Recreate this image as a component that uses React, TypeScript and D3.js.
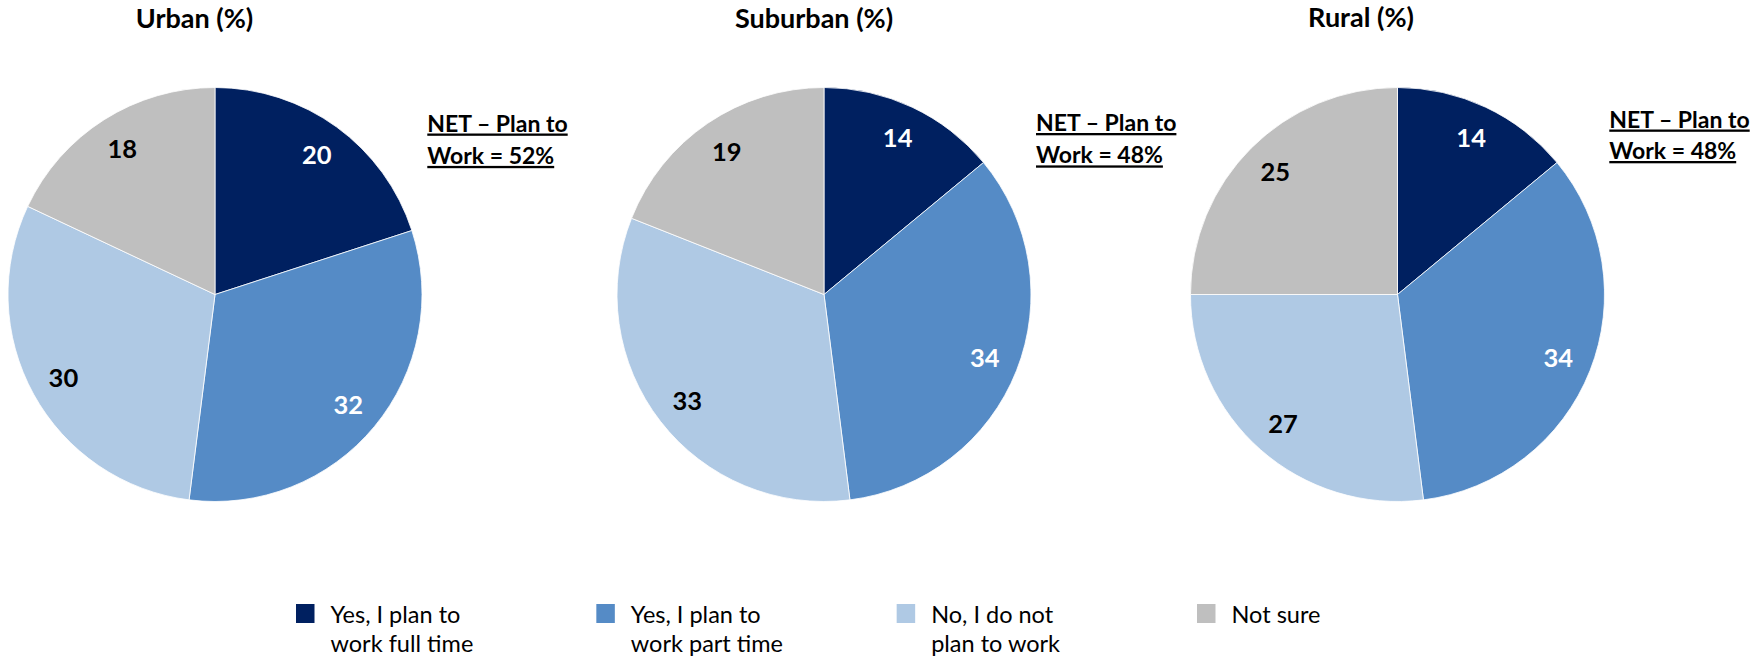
import React from "react";
import * as d3 from "d3";

const categories = [
  "Yes, I plan to work full time",
  "Yes, I plan to work part time",
  "No, I do not plan to work",
  "Not sure",
];
const legendLines = [
  ["Yes, I plan to", "work full time"],
  ["Yes, I plan to", "work part time"],
  ["No, I do not", "plan to work"],
  ["Not sure"],
];
const groups = ["Urban (%)", "Suburban (%)", "Rural (%)"];
const urbanValues = [20, 32, 30, 18];
const suburbanValues = [14, 34, 33, 19];
const ruralValues = [14, 34, 27, 25];
const netValues = ["52%", "48%", "48%"];

const colors = ["#002060", "#558BC6", "#AFC9E4", "#BFBFBF"];
const labelColors = ["#FFFFFF", "#FFFFFF", "#000000", "#000000"];

const W = 1757;
const H = 659;
const FONT = "Lato, 'Open Sans', sans-serif";

const layout = [
  { cx: 215, titleX: 194.5, titleY: 27.5, netX: 427.3, netY: 131.5, netGap: 32.4 },
  { cx: 824, titleX: 814, titleY: 27.5, netX: 1036, netY: 131, netGap: 32.4 },
  { cx: 1397.5, titleX: 1361, titleY: 27, netX: 1609.3, netY: 127.5, netGap: 31.5 },
];
const CY = 294.5;
const R = 207;
const LABEL_R = 173;

export default function App() {
  const series = [urbanValues, suburbanValues, ruralValues];
  const pie = d3.pie<number>().sort(null).value((d) => d);
  const arc = d3.arc<d3.PieArcDatum<number>>().innerRadius(0).outerRadius(R);
  const labelArc = d3
    .arc<d3.PieArcDatum<number>>()
    .innerRadius(LABEL_R)
    .outerRadius(LABEL_R);
  const color = d3.scaleOrdinal<string, string>().domain(categories).range(colors);
  const legendX = d3.scalePoint<string>().domain(categories).range([296, 1197]);

  return (
    <svg
      width={W}
      height={H}
      style={{ position: "absolute", left: 0, top: 0, background: "#fff" }}
      fontFamily={FONT}
    >
      {series.map((vals, gi) => {
        const L = layout[gi];
        const arcs = pie(vals);
        return (
          <g key={gi}>
            <text
              x={L.titleX}
              y={L.titleY}
              textAnchor="middle"
              fontSize={27}
              fontWeight={700}
              fill="#000"
            >
              {groups[gi]}
            </text>
            <g transform={`translate(${L.cx},${CY})`}>
              {arcs.map((a, i) => (
                <path
                  key={i}
                  d={arc(a) || ""}
                  fill={color(categories[i])}
                  stroke="#fff"
                  strokeWidth={0.8}
                />
              ))}
              {arcs.map((a, i) => {
                const [x, y] = labelArc.centroid(a);
                return (
                  <text
                    key={"l" + i}
                    x={x}
                    y={y}
                    dy="0.36em"
                    textAnchor="middle"
                    fontSize={25.5}
                    fontWeight={700}
                    fill={labelColors[i]}
                  >
                    {vals[i]}
                  </text>
                );
              })}
            </g>
            <text fontSize={23} fontWeight={700} fill="#000">
              <tspan x={L.netX} y={L.netY} textDecoration="underline">
                NET – Plan to
              </tspan>
              <tspan x={L.netX} y={L.netY + L.netGap} textDecoration="underline">
                {`Work = ${netValues[gi]}`}
              </tspan>
            </text>
          </g>
        );
      })}
      {categories.map((c, i) => {
        const x = legendX(c) as number;
        return (
          <g key={"leg" + i}>
            <rect x={x} y={604} width={18.5} height={19} fill={color(c)} />
            {legendLines[i].map((line, li) => (
              <text
                key={li}
                x={x + 34.5}
                y={623.3 + li * 28.4}
                fontSize={23.5}
                fill="#000"
              >
                {line}
              </text>
            ))}
          </g>
        );
      })}
    </svg>
  );
}
